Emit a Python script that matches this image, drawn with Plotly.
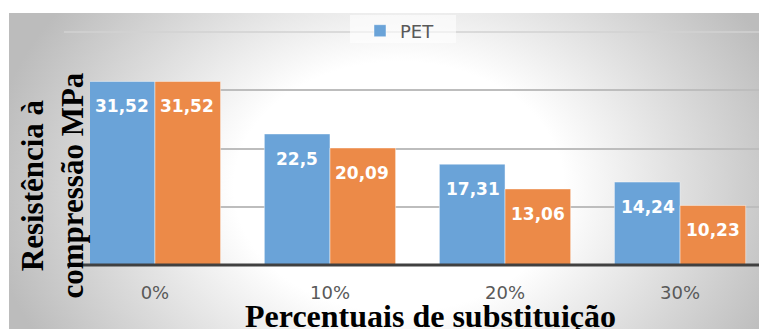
import base64
import plotly.graph_objects as go

# ---- data ----
categories = ["0%", "10%", "20%", "30%"]
pet_values = [31.52, 22.5, 17.31, 14.24]
second_values = [31.52, 20.09, 13.06, 10.23]
series_names = ["PET", "Série 2"]
y_title = "Resistência à<br>compressão MPa"
x_title = "Percentuais de substituição"

BLUE = "#6aa3d8"
ORANGE = "#ec8a48"

W, H = 759, 329
L, R, T, B = 90, 0, 32, 64
PW, PH = W - L - R, H - T - B


def px(x):
    return (x - L) / PW


def py(y):
    return (H - B - y) / PH


fig = go.Figure()
fig.add_trace(go.Bar(x=categories, y=pet_values, name=series_names[0],
                     marker=dict(color=BLUE, line=dict(color="rgba(255,255,255,0.45)", width=1))))
fig.add_trace(go.Bar(x=categories, y=second_values, name=series_names[1], showlegend=False,
                     marker=dict(color=ORANGE, line=dict(color="rgba(255,255,255,0.45)", width=1))))

label_font = dict(family="DejaVu Sans", size=17, color="white", weight="bold")
annotations = []
for vals, shift in ((pet_values, -32.5), (second_values, 32.5)):
    for c, v in zip(categories, vals):
        annotations.append(dict(x=c, y=v, xref="x", yref="y", text=str(v).replace(".", ","),
                                showarrow=False, xshift=shift, yshift=-25, font=label_font))

annotations.append(dict(x=px(51.5), y=py(186), xref="paper", yref="paper", text=y_title,
                        textangle=-90, showarrow=False, align="center",
                        xanchor="center", yanchor="middle",
                        font=dict(family="Liberation Serif", size=31, color="black", weight="bold")))
annotations.append(dict(x=px(431), y=py(316), xref="paper", yref="paper", text=x_title,
                        showarrow=False, xanchor="center", yanchor="middle",
                        font=dict(family="Liberation Serif", size=32, color="black", weight="bold")))

svg = ('<svg xmlns="http://www.w3.org/2000/svg" width="750" height="316" viewBox="0 0 750 316" '
       'preserveAspectRatio="none"><defs><radialGradient id="g" cx="0.52" cy="0.55" r="0.55" '
       'gradientTransform="translate(0.52 0.55) scale(1 1.8) translate(-0.52 -0.55)">'
       '<stop offset="0" stop-color="#ffffff"/><stop offset="0.4" stop-color="#ffffff"/>'
       '<stop offset="1" stop-color="#bcbcbc"/></radialGradient></defs>'
       '<rect width="750" height="316" fill="url(#g)"/></svg>')
src = "data:image/svg+xml;base64," + base64.b64encode(svg.encode()).decode()

fig.update_layout(
    width=W, height=H,
    margin=dict(l=L, r=R, t=T, b=B, pad=0),
    paper_bgcolor="white", plot_bgcolor="rgba(0,0,0,0)",
    barmode="group", bargap=0.25, bargroupgap=0,
    images=[dict(source=src, xref="paper", yref="paper", x=px(9), y=py(13),
                 sizex=750 / PW, sizey=316 / PH, sizing="stretch",
                 xanchor="left", yanchor="top", layer="below")],
    xaxis=dict(range=[-0.371, 3.451], showgrid=False, showline=False, ticks="",
               tickfont=dict(family="DejaVu Sans", size=18, color="#595959"),
               ticklabelstandoff=15, fixedrange=True),
    yaxis=dict(range=[0, 40], dtick=10, showgrid=True, gridcolor="#bdbdbd", gridwidth=1.5,
               zeroline=False, showticklabels=False, showline=False, ticks=""),
    legend=dict(x=px(360), y=py(31), xanchor="left", yanchor="middle", orientation="h",
                bgcolor="rgba(0,0,0,0)", font=dict(family="DejaVu Sans", size=18, color="#595959")),
    annotations=annotations,
    shapes=[
        dict(type="line", xref="paper", yref="paper", x0=px(64), x1=1, y0=1, y1=1,
             line=dict(color="#d2d2d2", width=1.5), layer="below"),
        dict(type="rect", xref="paper", yref="paper", x0=px(350), x1=px(456), y0=py(43), y1=py(15),
             fillcolor="rgba(255,255,255,0.6)", line=dict(width=0), layer="above"),
        dict(type="line", xref="paper", yref="paper", x0=px(67), x1=1, y0=0, y1=0,
             line=dict(color="#404040", width=3), layer="above"),
    ],
)

fig.write_html("out.html")
